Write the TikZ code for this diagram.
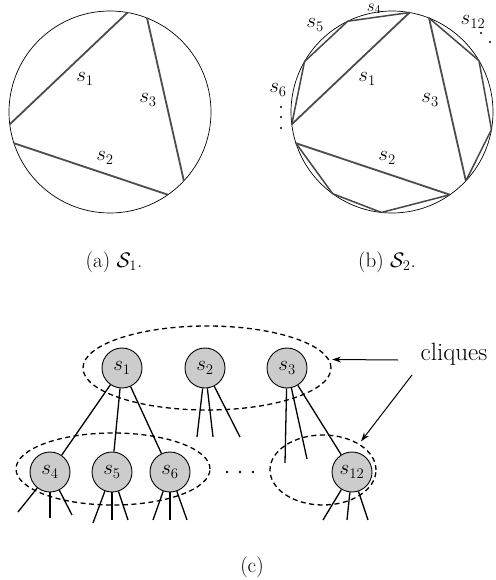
\documentclass[tikz,border=0pt]{standalone}
\usepackage{fix-cm}
\usepackage{amsmath}
\usepackage{amssymb}
\usetikzlibrary{arrows.meta,shapes.geometric}

\tikzset{
  chord/.style={draw=gray!60!black, line width=1.8pt},
  seg/.style={circle, draw, line width=0.9pt, fill=gray!40, minimum size=40pt, inner sep=0pt},
  clique/.style={ellipse, draw, line width=1.3pt, dash pattern=on 5pt off 3.5pt, inner sep=0pt},
  link/.style={line width=1.3pt},
  pointer/.style={line width=1pt, -{Stealth[length=9pt,width=6pt]}},
}

\begin{document}
\begin{tikzpicture}[x=1pt,y=-1pt,font=\fontsize{21}{25}\selectfont]
  \useasboundingbox (0,0) rectangle (495,580);

  % --- the two disks (a) and (b) ---
  \foreach \cx/\nm in {110/a,392/b} {
    \coordinate (c\nm) at (\cx,112);
    \draw[line width=0.7pt] (c\nm) circle[radius=101pt];
    \begin{scope}[shift={(c\nm)}]
      \draw[chord] (187:101pt) -- (80:101pt);
      \draw[chord] (198:101pt) -- (-55:101pt);
      \draw[chord] (68.5:101pt) -- (-43:101pt);
      \node at (-25,-33) {$s_1$};
      \node at (-5,46) {$s_2$};
      \node at (38,-12) {$s_3$};
    \end{scope}
  }

  % --- short chords of (b) ---
  \begin{scope}[shift={(cb)}]
    \foreach \p/\q in {80/116,116/150,150/187,198/234,234/264,264/305,317/350,350/390.6,30.6/68.5} {
      \draw[chord, line width=1.5pt, draw=gray!55!black] (\p:101pt) -- (\q:101pt);
    }
  \end{scope}
  \node[inner sep=0pt, font=\fontsize{17}{20}\selectfont] at (374,9) {$s_4$};
  \node at (315,25) {$s_5$};
  \node at (278,90) {$s_6$};
  \node at (473,22) {$s_{12}$};
  \foreach \x/\y in {281/107,281/117,281/128,481/33,490/42} {
    \fill (\x,\y) circle[radius=1.2pt];
  }

  % --- captions ---
  \node (capa) at (114,262) {(a) $\mathcal{S}_1$.};
  \node (capb) at (387,262) {(b) $\mathcal{S}_2$.};
  \node (capc) at (252,567) {(c)};

  % --- clique graph (c) ---
  \node[seg] (s1) at (122,368) {$s_1$};
  \node[seg] (s2) at (205,368) {$s_2$};
  \node[seg] (s3) at (287,368) {$s_3$};
  \node[seg] (s4) at (50,472) {$s_4$};
  \node[seg] (s5) at (112,472) {$s_5$};
  \node[seg] (s6) at (170,472) {$s_6$};
  \node[seg] (s12) at (352,472) {$s_{12}$};

  \node[clique, minimum width=248pt, minimum height=84pt] (cqtop) at (207,368) {};
  \node[clique, minimum width=194pt, minimum height=72pt] (cqleft) at (113,469) {};
  \node[clique, minimum width=106pt, minimum height=70pt] (cqright) at (323,470) {};

  \draw[link] (s1) -- (s4);
  \draw[link] (s1) -- (s5);
  \draw[link] (s1) -- (s6);
  \draw[link] (s3) -- (s12);

  % --- loose edges ---
  \foreach \src/\i/\x/\y in {s2/1/197/437,s2/2/213/437,s2/3/240/437,
                             s3/1/285/463,s3/2/307/459,
                             s4/1/18/512,s4/2/50/518,s4/3/72/515,
                             s5/1/93/523,s5/2/112/520,s5/3/128/520,
                             s6/1/153/520,s6/2/170/520,s6/3/187/520,
                             s12/1/323/520,s12/2/347/520,s12/3/368/520} {
    \coordinate (\src e\i) at (\x,\y);
    \draw[link] (\src) -- (\src e\i);
  }

  \foreach \x in {227,240,253} {
    \fill (\x,472) circle[radius=1.3pt];
  }

  % --- label and arrows ---
  \node[font=\fontsize{25}{29}\selectfont] (cliques) at (454,354) {cliques};
  \coordinate (q1) at (398,360);
  \coordinate (q2) at (412,375);
  \draw[pointer, shorten >=3pt] (q1) -- (cqtop.4);
  \draw[pointer, shorten >=3pt] (q2) -- (cqright.36);
\end{tikzpicture}
\end{document}
